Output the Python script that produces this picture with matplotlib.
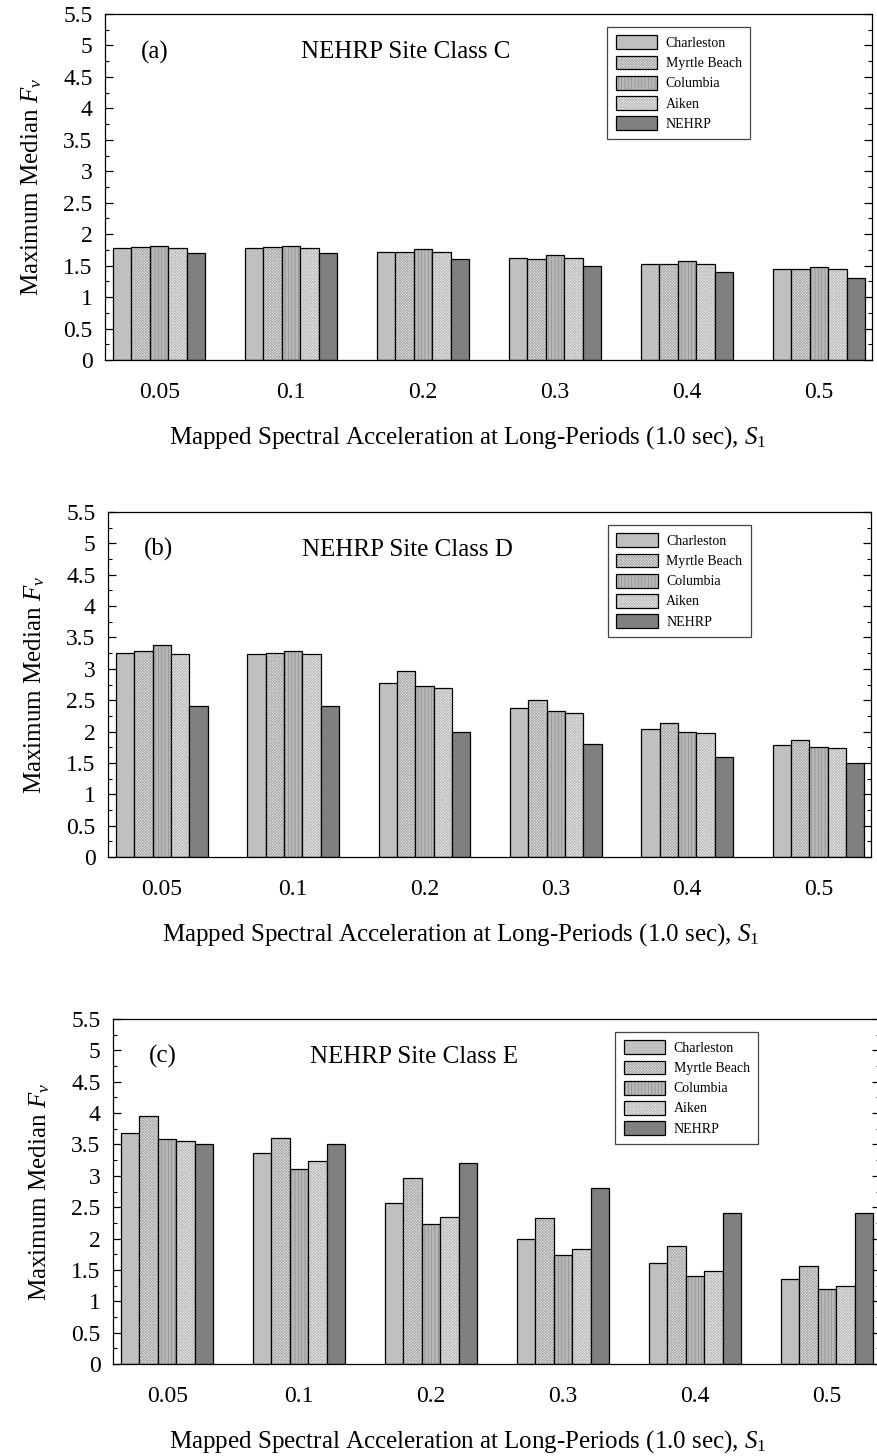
import matplotlib
matplotlib.use("Agg")
import matplotlib.pyplot as plt
import numpy as np
from matplotlib.patches import Patch
from matplotlib.ticker import MultipleLocator, FuncFormatter

plt.rcParams['font.family'] = ['Liberation Serif', 'DejaVu Serif']
plt.rcParams['mathtext.fontset'] = 'custom'
plt.rcParams['mathtext.rm'] = 'Liberation Serif'
plt.rcParams['mathtext.it'] = 'Liberation Serif:italic'
plt.rcParams['hatch.linewidth'] = 0.5

s1_labels = ['0.05', '0.1', '0.2', '0.3', '0.4', '0.5']
cities = ['Charleston', 'Myrtle Beach', 'Columbia', 'Aiken', 'NEHRP']

# maximum median Fv, one list per city / panel
class_c = {
    'Charleston':   [1.78, 1.78, 1.71, 1.62, 1.53, 1.44],
    'Myrtle Beach': [1.80, 1.79, 1.71, 1.61, 1.52, 1.44],
    'Columbia':     [1.82, 1.82, 1.77, 1.67, 1.57, 1.48],
    'Aiken':        [1.78, 1.78, 1.72, 1.62, 1.53, 1.45],
    'NEHRP':        [1.70, 1.70, 1.60, 1.50, 1.40, 1.30],
}
class_d = {
    'Charleston':   [3.25, 3.23, 2.78, 2.37, 2.04, 1.79],
    'Myrtle Beach': [3.29, 3.25, 2.97, 2.51, 2.14, 1.87],
    'Columbia':     [3.38, 3.28, 2.73, 2.32, 2.00, 1.75],
    'Aiken':        [3.23, 3.23, 2.69, 2.29, 1.98, 1.74],
    'NEHRP':        [2.40, 2.40, 2.00, 1.80, 1.60, 1.50],
}
class_e = {
    'Charleston':   [3.69, 3.36, 2.56, 1.99, 1.61, 1.35],
    'Myrtle Beach': [3.95, 3.60, 2.96, 2.33, 1.88, 1.56],
    'Columbia':     [3.59, 3.11, 2.23, 1.74, 1.41, 1.19],
    'Aiken':        [3.56, 3.23, 2.34, 1.83, 1.48, 1.25],
    'NEHRP':        [3.50, 3.50, 3.20, 2.80, 2.40, 2.40],
}

# face colour, hatch, hatch colour
styles = {
    'Charleston':   ('#c0c0c0', None, None),
    'Myrtle Beach': ('#eeeeee', 'xxxxxxxxxxxx', '#a6a6a6'),
    'Columbia':     ('#b8b8b8', '|||||', '#8c8c8c'),
    'Aiken':        ('#f4f4f4', 'xxxxxxxxxxxx', '#b8b8b8'),
    'NEHRP':        ('#808080', None, None),
}

# tag, title, data, axes box in pixels (left, right, top, bottom), xlabel x
panels = [
    ('(a)', 'NEHRP Site Class C', class_c, [105, 872, 14, 360], 0.473),
    ('(b)', 'NEHRP Site Class D', class_d, [108, 871, 512, 857], 0.463),
    ('(c)', 'NEHRP Site Class E', class_e, [113, 880, 1019, 1364], 0.463),
]

W, H = 878, 1456
fig = plt.figure(figsize=(W / 100, H / 100), dpi=100)

bar_w = 0.14
x = np.arange(len(s1_labels))

for tag, title, data, (l, r, t, b), xl_x in panels:
    ax = fig.add_axes([l / W, 1 - b / H, (r - l) / W, (b - t) / H])
    handles = []
    for i, city in enumerate(cities):
        fc, hatch, hc = styles[city]
        xpos = x + (i - 2) * bar_w
        if hatch:
            ax.bar(xpos, data[city], bar_w, color=fc, hatch=hatch,
                   edgecolor=hc, linewidth=0)
        ax.bar(xpos, data[city], bar_w, color=fc if not hatch else 'none',
               edgecolor='black', linewidth=0.9)
        face = Patch(facecolor=fc, hatch=hatch, edgecolor=hc if hatch else fc, linewidth=0)
        edge = Patch(facecolor='none', edgecolor='black', linewidth=0.9)
        handles.append((face, edge))

    ax.set_xlim(-0.41, 5.4)
    ax.set_ylim(0, 5.5)
    ax.set_xticks(x)
    ax.set_xticklabels(s1_labels)
    ax.tick_params(axis='x', length=0, pad=16, labelsize=17)
    ax.yaxis.set_major_locator(MultipleLocator(0.5))
    ax.yaxis.set_minor_locator(MultipleLocator(0.25))
    ax.yaxis.set_major_formatter(FuncFormatter(lambda v, p: '%g' % v))
    ax.tick_params(axis='y', which='major', direction='in', length=6,
                   right=True, labelsize=17, width=0.9, pad=9)
    ax.tick_params(axis='y', which='minor', direction='in', length=3,
                   right=True, width=0.8)
    for sp in ax.spines.values():
        sp.set_linewidth(0.9)

    ax.set_ylabel('Maximum Median $F_v$', fontsize=18, labelpad=14)
    ax.set_xlabel(r'Mapped Spectral Acceleration at Long-Periods (1.0 sec), $S_{\mathit{1}}$',
                  fontsize=18, labelpad=15)
    ax.xaxis.label.set_x(xl_x)

    ax.text(0.047, 0.89, tag, transform=ax.transAxes, fontsize=18,
            ha='left', va='center')
    ax.text(0.392, 0.89, title, transform=ax.transAxes, fontsize=18,
            ha='center', va='center')

    leg = ax.legend(handles, cities, loc='upper left',
                    bbox_to_anchor=(0.655, 0.962), borderaxespad=0,
                    fontsize=10, handlelength=3.0, handleheight=1.15,
                    labelspacing=0.4, handletextpad=0.6, borderpad=0.6,
                    fancybox=False, framealpha=1, edgecolor='#444444')
    leg.get_frame().set_linewidth(0.9)

fig.savefig('out.png', dpi=100)
